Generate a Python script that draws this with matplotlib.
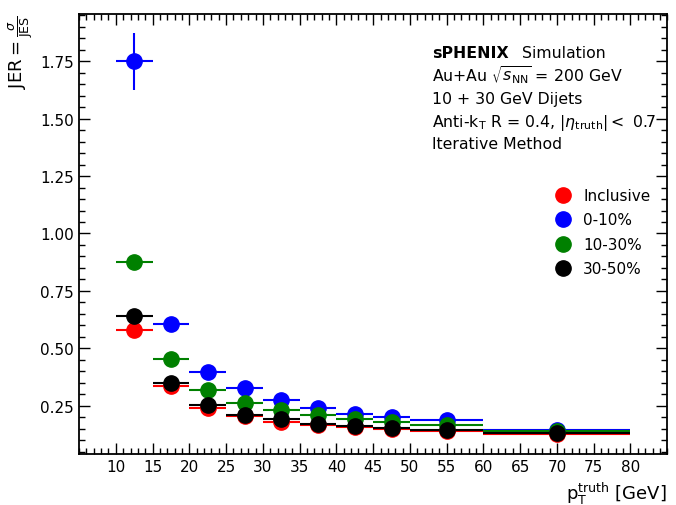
import numpy as np
import matplotlib
matplotlib.use("Agg")
import matplotlib.pyplot as plt
from matplotlib.ticker import MultipleLocator

# pT truth bins
bin_lo = [10, 15, 20, 25, 30, 35, 40, 45, 50, 60]
bin_hi = [15, 20, 25, 30, 35, 40, 45, 50, 60, 80]

jer_incl = [0.581, 0.337, 0.241, 0.206, 0.180, 0.167, 0.158, 0.150, 0.141, 0.128]
jer_0_10 = [1.750, 0.607, 0.398, 0.328, 0.276, 0.241, 0.215, 0.202, 0.189, 0.145]
jer_10_30 = [0.877, 0.455, 0.320, 0.263, 0.233, 0.210, 0.193, 0.180, 0.167, 0.140]
jer_30_50 = [0.642, 0.350, 0.254, 0.210, 0.190, 0.172, 0.163, 0.154, 0.145, 0.132]

err_incl = [0.010, 0.006, 0.004, 0.003, 0.003, 0.003, 0.003, 0.003, 0.002, 0.002]
err_0_10 = [0.125, 0.010, 0.006, 0.005, 0.004, 0.004, 0.004, 0.004, 0.003, 0.003]
err_10_30 = [0.012, 0.008, 0.005, 0.004, 0.004, 0.003, 0.003, 0.003, 0.003, 0.002]
err_30_50 = [0.010, 0.007, 0.004, 0.004, 0.003, 0.003, 0.003, 0.003, 0.003, 0.002]

labels = ["Inclusive", "0-10%", "10-30%", "30-50%"]
colors = ["red", "blue", "green", "black"]

x = (np.array(bin_lo) + np.array(bin_hi)) / 2
xerr = (np.array(bin_hi) - np.array(bin_lo)) / 2

fig = plt.figure(figsize=(6.76, 5.06), dpi=100)
ax = fig.add_axes([0.117, 0.101, 0.870, 0.869])

for y, e, lab, c in zip([jer_incl, jer_0_10, jer_10_30, jer_30_50],
                        [err_incl, err_0_10, err_10_30, err_30_50],
                        labels, colors):
    ax.errorbar(x, y, xerr=xerr, yerr=e, fmt="o", color=c, markersize=11,
                elinewidth=1.5, capsize=0, label=lab)

ax.set_xlim(5, 85)
ax.set_ylim(0.04, 1.955)
ax.xaxis.set_major_locator(MultipleLocator(5))
ax.xaxis.set_minor_locator(MultipleLocator(1))
ax.yaxis.set_major_locator(MultipleLocator(0.25))
ax.yaxis.set_minor_locator(MultipleLocator(0.05))
ax.set_xticks(np.arange(10, 85, 5))
ax.tick_params(which="both", direction="in", top=True, right=True, labelsize=11)
ax.tick_params(which="major", length=8, width=1.0)
ax.tick_params(which="minor", length=4, width=1.0)
for s in ax.spines.values():
    s.set_linewidth(1.3)

ax.set_xlabel(r"$\mathrm{p_T^{truth}}$ [GeV]", fontsize=13, loc="right")
ax.set_ylabel(r"JER$=\frac{\sigma}{\mathrm{JES}}$", fontsize=13, loc="top")

handles, labs = ax.get_legend_handles_labels()
handles = [h[0] for h in handles]
ax.legend(handles, labs, loc="upper right", bbox_to_anchor=(0.995, 0.636),
          frameon=False, fontsize=11, handletextpad=0.3, labelspacing=0.62)

# 文字标注，用基线对齐避免根号那行把间距撑开
tx = 0.60
ax.text(tx, 0.902, "sPHENIX", transform=ax.transAxes, fontsize=11.3,
        fontweight="bold", va="baseline")
ax.text(tx + 0.153, 0.902, "Simulation", transform=ax.transAxes,
        fontsize=11.3, va="baseline")
lines = [r"Au+Au $\sqrt{s_{\mathrm{NN}}}$ = 200 GeV",
         "10 + 30 GeV Dijets",
         r"Anti-k$_{\mathrm{T}}$ R = 0.4, |$\eta_{\mathrm{truth}}$|$<$ 0.7",
         "Iterative Method"]
line_y = [0.850, 0.798, 0.745, 0.695]
for t, yy in zip(lines, line_y):
    ax.text(tx, yy, t, transform=ax.transAxes, fontsize=11.3, va="baseline")

fig.savefig("out.png", dpi=100)
